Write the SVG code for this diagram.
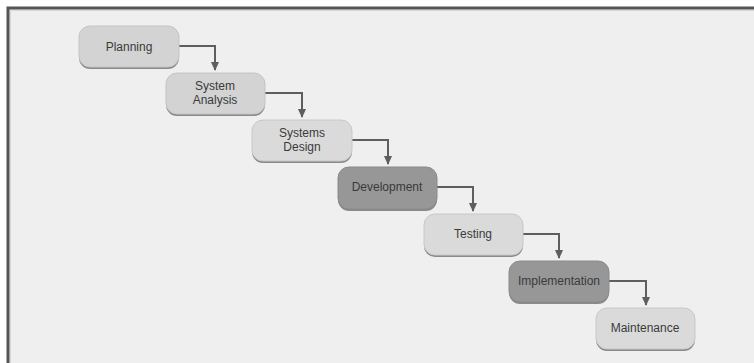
<svg xmlns="http://www.w3.org/2000/svg" width="754" height="363" viewBox="0 0 754 363">
<defs>
<style>
.sh{fill:#8a8a8a}
.lt{fill:#d3d3d3;stroke:#c4c4c4;stroke-width:1}
.lt2{fill:#dadada;stroke:#c8c8c8;stroke-width:1}
.dk{fill:#979797;stroke:#8a8a8a;stroke-width:1}
.t{font-family:"Liberation Sans",Arial,sans-serif;font-size:12px;fill:#3a3a3a;text-anchor:middle}
.c{fill:none;stroke:#5e5e5e;stroke-width:2}
</style>
<marker id="ah" markerWidth="10" markerHeight="10" refX="8" refY="5" orient="auto" markerUnits="userSpaceOnUse">
<path d="M0,1 L9,5 L0,9 Z" fill="#5e5e5e"/>
</marker>
</defs>
<rect x="0" y="0" width="754" height="363" fill="#ffffff"/>
<rect x="8" y="8" width="746" height="355" fill="#efefef"/>
<path d="M8,363 V8 H754" fill="none" stroke="#555555" stroke-width="3"/>
<path d="M10.5,363 V10.5 H754" fill="none" stroke="#d8d8d8" stroke-width="1"/>
<g id="connectors">
<path class="c" d="M179,46 H215 V70" marker-end="url(#ah)"/>
<path class="c" d="M265,93 H302 V117" marker-end="url(#ah)"/>
<path class="c" d="M352,140 H388 V164" marker-end="url(#ah)"/>
<path class="c" d="M437,187 H473 V211" marker-end="url(#ah)"/>
<path class="c" d="M523,234 H559 V258" marker-end="url(#ah)"/>
<path class="c" d="M609,281 H646 V305" marker-end="url(#ah)"/>
</g>
<g id="planning">
<rect class="sh" x="79" y="28" width="100" height="41" rx="11"/>
<rect class="lt" x="79" y="26" width="100" height="41" rx="11"/>
<text class="t" x="129" y="51">Planning</text>
</g>
<g id="system-analysis">
<rect class="sh" x="166" y="75" width="99" height="41" rx="11"/>
<rect class="lt" x="166" y="73" width="99" height="41" rx="11"/>
<text class="t" x="215" y="90">System</text>
<text class="t" x="215" y="104">Analysis</text>
</g>
<g id="systems-design">
<rect class="sh" x="252" y="122" width="100" height="41" rx="11"/>
<rect class="lt2" x="252" y="120" width="100" height="41" rx="11"/>
<text class="t" x="302" y="137">Systems</text>
<text class="t" x="302" y="151">Design</text>
</g>
<g id="development">
<rect class="sh" x="338" y="169" width="99" height="42" rx="11" fill="#7a7a7a"/>
<rect class="dk" x="338" y="167" width="99" height="42" rx="11"/>
<text class="t" x="387" y="191">Development</text>
</g>
<g id="testing">
<rect class="sh" x="424" y="216" width="99" height="41" rx="11"/>
<rect class="lt2" x="424" y="214" width="99" height="41" rx="11"/>
<text class="t" x="473" y="238">Testing</text>
</g>
<g id="implementation">
<rect class="sh" x="509" y="263" width="100" height="41" rx="11"/>
<rect class="dk" x="509" y="261" width="100" height="41" rx="11"/>
<text class="t" x="559" y="285">Implementation</text>
</g>
<g id="maintenance">
<rect class="sh" x="596" y="310" width="99" height="41" rx="11"/>
<rect class="lt2" x="596" y="308" width="99" height="41" rx="11"/>
<text class="t" x="645" y="332">Maintenance</text>
</g>
</svg>
